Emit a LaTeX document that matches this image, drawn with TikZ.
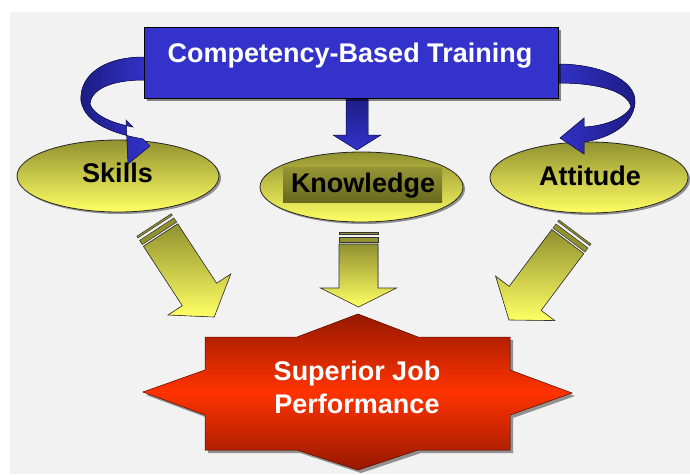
\documentclass[tikz,border=0pt]{standalone}
\usepackage{fontspec}
\setmainfont{Liberation Sans}
\usetikzlibrary{shapes.geometric,shadows}
\definecolor{bg}{RGB}{242,242,242}
\definecolor{cbtblue}{RGB}{51,51,204}
\definecolor{navy}{RGB}{28,28,130}
\definecolor{olive}{RGB}{145,145,48}
\definecolor{lemon}{RGB}{255,255,100}
\definecolor{darkred}{RGB}{150,24,0}
\definecolor{brightred}{RGB}{255,51,0}
\definecolor{boxtop}{RGB}{150,150,55}
\definecolor{boxbot}{RGB}{105,105,30}
\tikzset{
  lbl/.style={font=\bfseries\fontsize{27}{31}\selectfont, inner sep=0pt, anchor=base},
  ovalnode/.style={ellipse, draw=black!85, line width=0.8pt, top color=olive, bottom color=lemon, inner sep=0pt,
    drop shadow={shadow xshift=2pt, shadow yshift=-2pt, opacity=0.4, fill=black}},
  titlebox/.style={rectangle, draw=black, line width=0.8pt, fill=cbtblue, inner sep=0pt,
    drop shadow={shadow xshift=3pt, shadow yshift=-3pt, opacity=0.45, fill=black}},
  knowbox/.style={rectangle, draw=none, top color=boxtop, bottom color=boxbot, inner sep=0pt},
  stripe/.style={draw=black!80, line width=0.5pt, fill=olive},
  yarrow/.style={draw=black!80, line width=0.6pt, top color=olive, bottom color=lemon},
  ribbonl/.style={draw=navy!60!black, line width=0.5pt, left color=navy, right color=cbtblue},
  ribbonr/.style={draw=navy!60!black, line width=0.5pt, right color=navy, left color=cbtblue},
  downblue/.style={draw=navy!60!black, line width=0.5pt, top color=navy, bottom color=cbtblue},
  starshade/.style={draw=darkred!70!black, line width=0.5pt, top color=darkred, bottom color=darkred, middle color=brightred},
  shadowfill/.style={fill=black, opacity=0.4},
}
\newcommand\yarrowshape[7]{% x y rot L w h hl
  \begin{scope}[shift={(#1,#2)}, rotate=#3]
    \filldraw[stripe] (-#5,0) rectangle (#5,2);
    \filldraw[stripe] (-#5,5) rectangle (#5,10);
    \filldraw[yarrow] (-#5,12) -- (#5,12) -- (#5,{#4-#7}) -- (#6,{#4-#7}) -- (0,#4) -- (-#6,{#4-#7}) -- (-#5,{#4-#7}) -- cycle;
  \end{scope}}
\begin{document}
\begin{tikzpicture}[x=1pt,y=-1pt]
\useasboundingbox (0,0) rectangle (690,474);
\fill[white] (0,0) rectangle (690,474);
\fill[bg] (10,12) rectangle (690,474);

% ovals
\node[ovalnode, minimum width=202, minimum height=72] (skills) at (118,176) {};
\node[ovalnode, minimum width=203, minimum height=70] (knowledge) at (361.5,187) {};
\node[ovalnode, minimum width=198, minimum height=71] (attitude) at (589,177.5) {};
\node[knowbox, minimum width=159, minimum height=35] (knowbg) at (362.5,184.5) {};
\node[lbl] (skillslbl) at (117.5,182) {Skills};
\node[lbl] (knowlbl) at (363,192) {Knowledge};
\node[lbl] (attlbl) at (590,185) {Attitude};

% blue ribbons
\filldraw[ribbonl] (150,57) -- (144,57) .. controls (100,57) and (79,78) .. (81,101)
  .. controls (85,124) and (115,134) .. (143,139) -- (150,146) -- (128,164) -- (126,120) -- (133,127)
  .. controls (110,123) and (93,114) .. (90,104) .. controls (91,90) and (110,80) .. (144,80) -- (150,80) -- cycle;
\filldraw[ribbonr] (552,64) -- (558,64) .. controls (600,64) and (637,80) .. (635,103)
  .. controls (633,125) and (610,138) .. (584,142) -- (584,154) -- (560,138) -- (584,118) -- (584,127)
  .. controls (605,126) and (625,118) .. (631,107) .. controls (628,92) and (600,83) .. (558,83) -- (552,83) -- cycle;
\filldraw[downblue] (346,96) -- (368,96) -- (368,135) -- (381,135) -- (357,150) -- (333,135) -- (346,135) -- cycle;

% title box
\node[titlebox, minimum width=414, minimum height=71] (cbt) at (351,62.5) {};
\node[lbl, text=white] (cbtlbl) at (350,62) {Competency-Based Training};

% yellow arrows
\yarrowshape{154}{225}{33.2}{110}{20.5}{37.5}{27}
\yarrowshape{358.5}{232}{0}{75}{19.5}{38}{19}
\yarrowshape{575}{232}{-36.9}{110}{20}{37}{27}

% star
\fill[shadowfill] (208,340) -- (300,340) -- (361,317) -- (421,340) -- (513,340) -- (513,373) -- (575,396) -- (513,418)
  -- (513,453) -- (421,453) -- (361,473) -- (300,453) -- (208,453) -- (208,418) -- (146,395) -- (208,373) -- cycle;
\filldraw[starshade] (205,337) -- (297,337) -- (358,314) -- (418,337) -- (510,337) -- (510,370) -- (572,393) -- (510,415)
  -- (510,450) -- (418,450) -- (358,470) -- (297,450) -- (205,450) -- (205,415) -- (143,392) -- (205,370) -- cycle;
\node[lbl, text=white] (sup1) at (357,380) {Superior Job};
\node[lbl, text=white] (sup2) at (357,413) {Performance};
\end{tikzpicture}
\end{document}
